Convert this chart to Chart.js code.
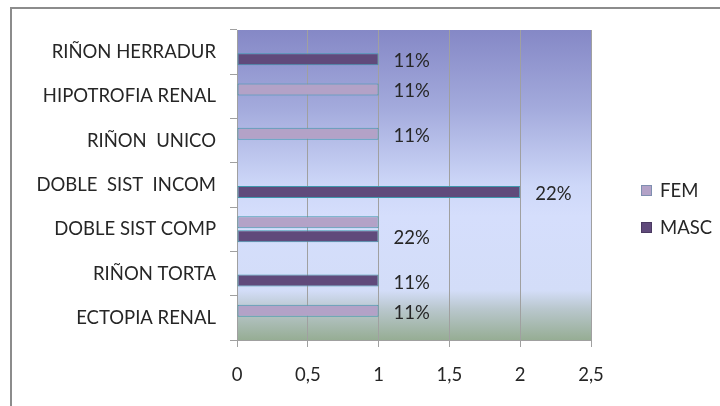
<!DOCTYPE html>
<html>
<head>
<meta charset="utf-8">
<script src="https://cdn.jsdelivr.net/npm/chart.js@4/dist/chart.umd.min.js"></script>
<style>
  html, body { margin: 0; padding: 0; background: #fff; overflow: hidden; }
  canvas { display: block; }
</style>
</head>
<body>
<canvas id="chart" width="720" height="406"></canvas>
<script>
// data
const categories = ['RIÑON HERRADUR', 'HIPOTROFIA RENAL', 'RIÑON  UNICO', 'DOBLE  SIST  INCOM',
                    'DOBLE SIST COMP', 'RIÑON TORTA', 'ECTOPIA RENAL'];
const femValues = [0, 1, 1, 0, 1, 0, 1];
const mascValues = [1, 0, 0, 2, 1, 1, 0];
const pctLabels = ['11%', '11%', '11%', '22%', '22%', '11%', '11%'];
const xTicks = ['0', '0,5', '1', '1,5', '2', '2,5'];

const FONT = 'Lato, "Open Sans", sans-serif';
const TEXT = '#262626';

const framePlugin = {
  id: 'frame',
  beforeDraw(chart) {
    const ctx = chart.ctx, a = chart.chartArea;
    ctx.save();
    ctx.fillStyle = '#8c8c8c';
    ctx.fillRect(10, 7, 710, 2);
    ctx.fillRect(10, 7, 2, 399);
    // plot area gradient
    const g = ctx.createLinearGradient(0, a.top, 0, a.bottom);
    g.addColorStop(0, '#8588c6');
    g.addColorStop(0.25, '#a3aadc');
    g.addColorStop(0.5, '#cdd7f8');
    g.addColorStop(0.6, '#d5defc');
    g.addColorStop(0.84, '#d3ddf8');
    g.addColorStop(0.9, '#b9c7cd');
    g.addColorStop(1, '#96ad94');
    ctx.fillStyle = g;
    ctx.fillRect(a.left, a.top, a.right - a.left, a.bottom - a.top);
    ctx.restore();
  }
};

const labelPlugin = {
  id: 'pctLabels',
  afterDatasetsDraw(chart) {
    const ctx = chart.ctx;
    ctx.save();
    ctx.font = '18.5px ' + FONT;
    ctx.fillStyle = TEXT;
    ctx.textAlign = 'left';
    ctx.textBaseline = 'middle';
    pctLabels.forEach(function(txt, i) {
      // put the label next to the last series that has a bar in this row
      let di = mascValues[i] > 0 ? 1 : 0;
      const bar = chart.getDatasetMeta(di).data[i];
      ctx.fillText(txt, bar.x + 15, bar.y + 2);
    });
    ctx.restore();
  }
};

const legendPlugin = {
  id: 'sideLegend',
  afterDraw(chart) {
    const ctx = chart.ctx;
    ctx.save();
    ctx.font = '18.5px ' + FONT;
    ctx.textBaseline = 'middle';
    chart.data.datasets.forEach(function(ds, i) {
      const y = 185 + i * 37;
      ctx.fillStyle = ds.backgroundColor;
      ctx.fillRect(641, y, 11, 11);
      ctx.strokeStyle = i === 0 ? '#7f8fb0' : '#4b3a62';
      ctx.lineWidth = 1;
      ctx.strokeRect(641.5, y + 0.5, 10, 10);
      ctx.fillStyle = TEXT;
      ctx.fillText(ds.label, 660, y + 6);
    });
    ctx.restore();
  }
};

new Chart(document.getElementById('chart'), {
  type: 'bar',
  data: {
    labels: categories,
    datasets: [
      {
        label: 'FEM',
        data: femValues,
        backgroundColor: '#b3a2c7',
        borderColor: '#3f97ad',
        borderWidth: 1,
        borderSkipped: false,
        categoryPercentage: 0.632,
        barPercentage: 0.857
      },
      {
        label: 'MASC',
        data: mascValues,
        backgroundColor: '#604a7b',
        borderColor: '#3f97ad',
        borderWidth: 1,
        borderSkipped: false,
        categoryPercentage: 0.632,
        barPercentage: 0.857
      }
    ]
  },
  options: {
    indexAxis: 'y',
    responsive: false,
    animation: false,
    layout: { padding: { left: 10, top: 30, right: 129, bottom: 0 } },
    plugins: {
      legend: { display: false },
      tooltip: { enabled: false }
    },
    scales: {
      x: {
        min: 0,
        max: 2.5,
        ticks: {
          stepSize: 0.5,
          font: { family: FONT, size: 18.5 },
          color: TEXT,
          padding: 17,
          maxRotation: 0,
          callback: function(v, i) { return xTicks[i]; }
        },
        grid: { color: '#a0a0a0', tickLength: 7 },
        border: { color: '#a0a0a0' },
        afterFit: function(s) { s.height = 66; }
      },
      y: {
        ticks: {
          font: { family: FONT, size: 18.5 },
          color: TEXT,
          padding: 14
        },
        grid: { drawOnChartArea: false, color: '#a0a0a0', tickLength: 7, offset: true },
        border: { color: '#a0a0a0' },
        afterFit: function(s) { s.width = 227; }
      }
    }
  },
  plugins: [framePlugin, labelPlugin, legendPlugin]
});
</script>
</body>
</html>
